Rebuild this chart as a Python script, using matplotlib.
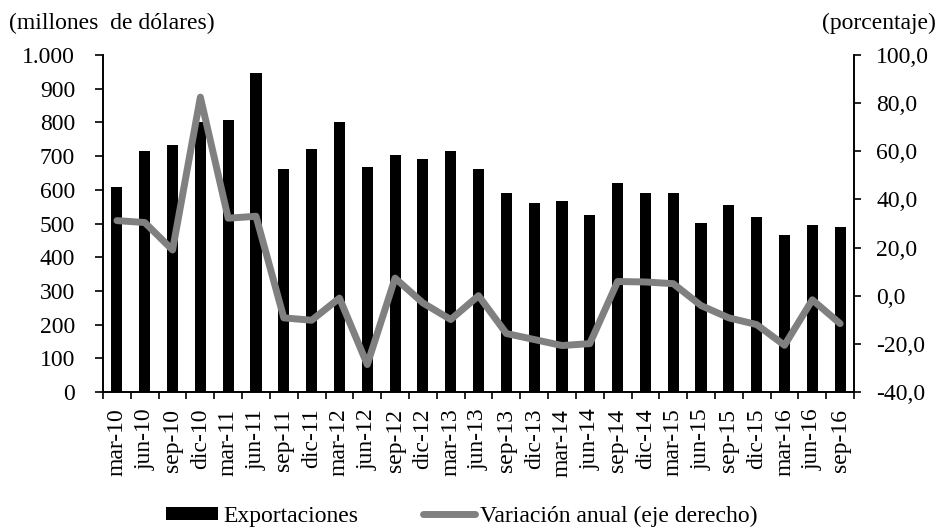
import matplotlib
matplotlib.use("Agg")
import matplotlib.pyplot as plt
import matplotlib.ticker as mticker
import numpy as np

# ========================= data ========================= #
quarters = ["mar-10", "jun-10", "sep-10", "dic-10", "mar-11", "jun-11", "sep-11",
            "dic-11", "mar-12", "jun-12", "sep-12", "dic-12", "mar-13", "jun-13",
            "sep-13", "dic-13", "mar-14", "jun-14", "sep-14", "dic-14", "mar-15",
            "jun-15", "sep-15", "dic-15", "mar-16", "jun-16", "sep-16"]

# exportaciones (millones de dolares)
exports = [609, 716, 734, 801, 806, 948, 663, 722, 800, 668, 704, 692, 716, 662,
           590, 560, 566, 526, 620, 592, 592, 502, 555, 520, 467, 497, 490]

# variacion anual (porcentaje, eje derecho)
variation = [31.2, 30.4, 19.0, 82.5, 32.2, 33.0, -9.2, -10.2, -1.0, -28.6, 7.3,
             -3.0, -9.9, 0.0, -15.7, -18.2, -20.7, -19.9, 5.9, 5.7, 5.0, -4.1,
             -9.2, -12.0, -20.6, -1.7, -11.6]

# ============================================================= #
plt.rcParams['font.family'] = ['Liberation Serif', 'DejaVu Serif']
plt.rcParams['font.size'] = 17

fig = plt.figure(figsize=(9.46, 5.29), dpi=100)
ax = fig.add_axes([0.1089, 0.259, 0.7939, 0.637])
ax2 = ax.twinx()

x = np.arange(len(quarters))
bars = ax.bar(x, exports, width=0.4, color='black', label='Exportaciones', zorder=2)
line, = ax2.plot(x, variation, color='#808080', lw=5, solid_capstyle='round',
                 solid_joinstyle='round', label='Variación anual (eje derecho)', zorder=3)

ax.set_xlim(-0.5, len(quarters) - 0.5)
ax.set_ylim(0, 1000)
ax2.set_ylim(-40, 100)
ax.set_yticks(np.arange(0, 1001, 100))
ax2.set_yticks(np.arange(-40, 101, 20))

ax.yaxis.set_major_formatter(mticker.FuncFormatter(lambda v, p: f"{int(v):,}".replace(",", ".")))
ax2.yaxis.set_major_formatter(mticker.FuncFormatter(lambda v, p: f"{v:.1f}".replace(".", ",")))

ax.set_xticks(x)
ax.set_xticklabels(quarters, rotation=90)
ax.set_xticks(np.arange(-0.5, len(quarters), 1), minor=True)
ax.tick_params(axis='x', which='major', length=0, pad=12)
ax.tick_params(axis='x', which='minor', length=5, width=1.2, direction='out')
ax.tick_params(axis='y', length=6, width=1.2, direction='out', pad=14)
ax2.tick_params(axis='y', length=5, width=1.2, direction='out', pad=11)

for a in (ax, ax2):
    a.spines['top'].set_visible(False)
    for s in ('left', 'right', 'bottom'):
        a.spines[s].set_linewidth(1.2)

# line drawn over the bars
ax.set_zorder(1)
ax2.set_zorder(2)
ax.patch.set_visible(False)

fig.text(0.009, 0.955, "(millones  de dólares)", ha='left', va='center')
fig.text(0.989, 0.955, "(porcentaje)", ha='right', va='center')

fig.legend([bars, line], ['Exportaciones', 'Variación anual (eje derecho)'],
           loc='lower left', bbox_to_anchor=(166 / 946, 0.004), ncol=2, frameon=False,
           borderpad=0, borderaxespad=0,
           handlelength=2.2, handleheight=0.5, handletextpad=0.25, columnspacing=2.7)

fig.savefig("out.png", dpi=100)
